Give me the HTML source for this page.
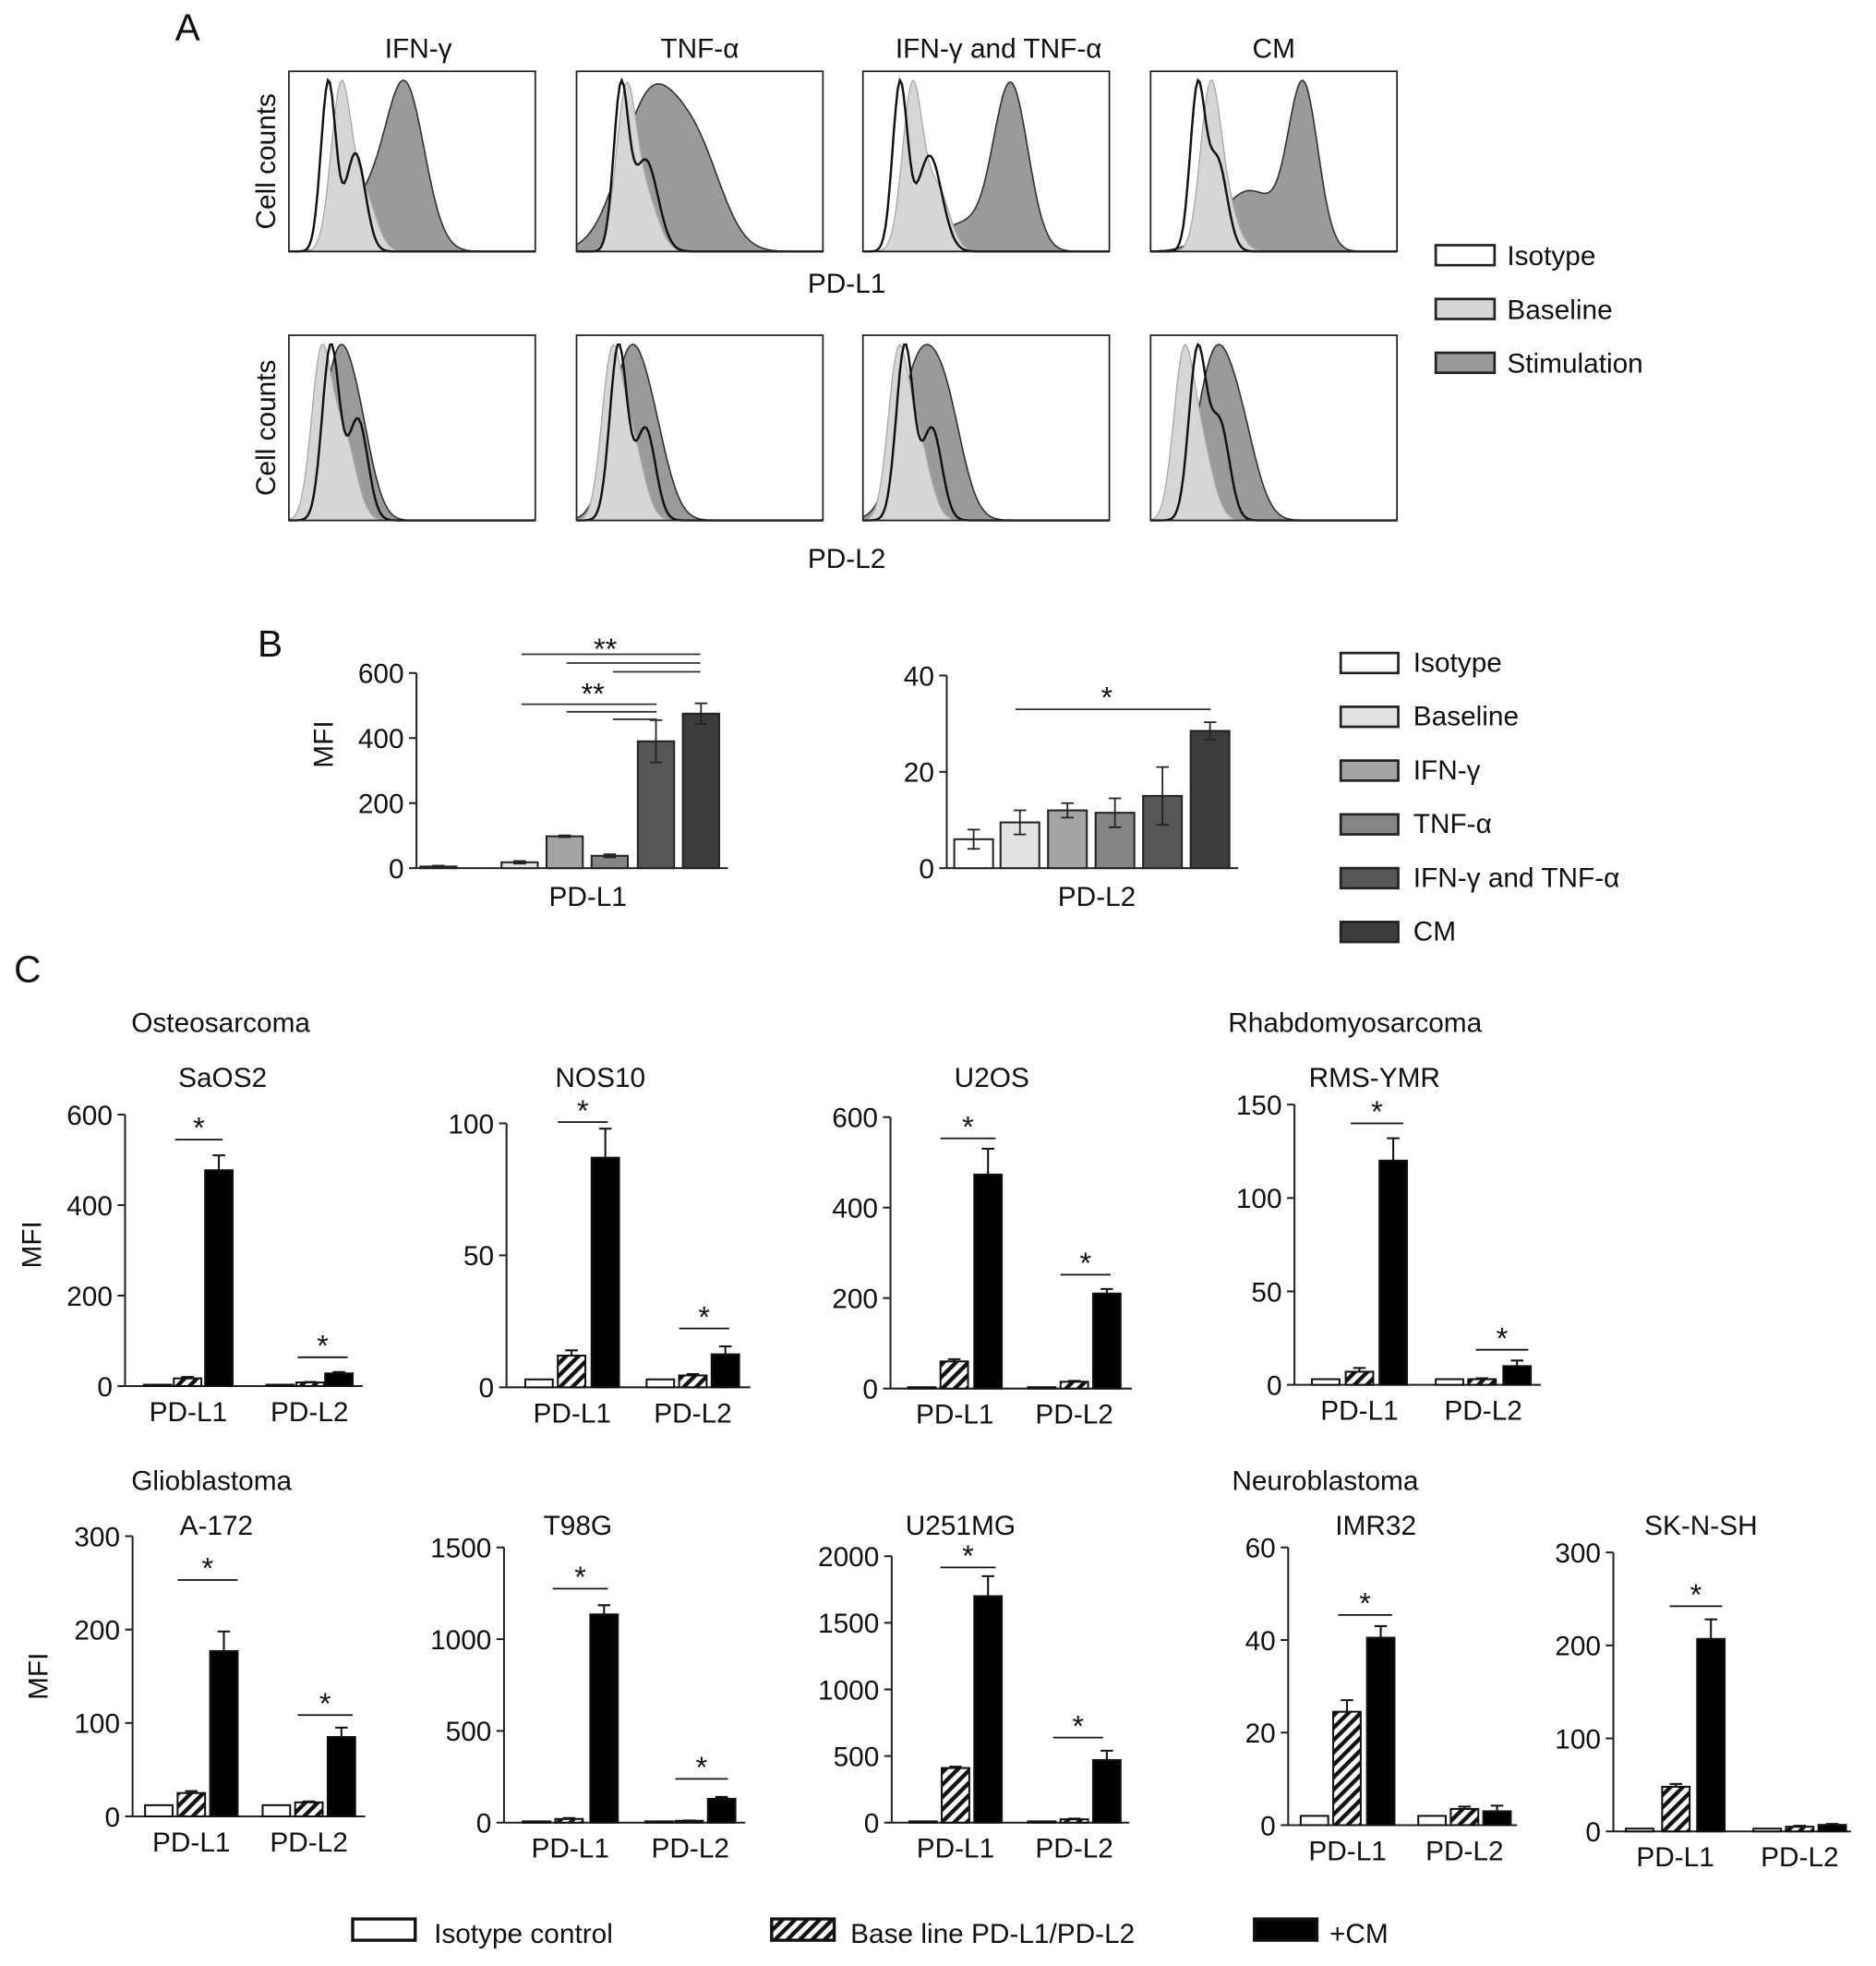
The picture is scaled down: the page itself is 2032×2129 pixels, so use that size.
<!DOCTYPE html>
<html><head><meta charset="utf-8"><style>
html,body{margin:0;padding:0;background:#fff}
svg{display:block}
text{font-family:"Liberation Sans",Arial,sans-serif;fill:#111}
</style></head><body>
<svg id="fig" width="2032" height="2129" viewBox="0 0 1500 1571.6" xmlns="http://www.w3.org/2000/svg">
<defs>
<pattern id="hatch" patternUnits="userSpaceOnUse" width="7" height="7" patternTransform="rotate(45)">
<rect width="7" height="7" fill="#fff"/><rect width="3.2" height="7" fill="#111"/>
</pattern>
</defs>
<g id="root"></g>
</svg>
<script>
// ---------- Panel A histogram data (gaussian components: center frac, height frac, width frac) ----------
const histTitles = ["IFN-γ","TNF-α","IFN-γ and TNF-α","CM"];
const histRow1Iso = [[[0.16,0.95,0.03],[0.27,0.55,0.04]],[[0.18,0.95,0.03],[0.28,0.55,0.05]],[[0.15,0.95,0.03],[0.27,0.55,0.05]],[[0.19,0.95,0.03],[0.27,0.55,0.04]]];
const histRow1Base = [[[0.21,0.92,0.04],[0.3,0.35,0.05]],[[0.2,0.85,0.04],[0.28,0.3,0.05]],[[0.2,0.9,0.04],[0.3,0.35,0.05]],[[0.24,0.9,0.04],[0.3,0.3,0.05]]];
const histRow1Stim = [[[0.47,0.95,0.08],[0.3,0.25,0.08]],[[0.3,0.85,0.12],[0.5,0.45,0.1]],[[0.6,0.92,0.07],[0.4,0.15,0.1]],[[0.62,0.92,0.06],[0.4,0.35,0.12]]];
const histRow2Iso = [[[0.17,0.95,0.035],[0.28,0.55,0.04]],[[0.17,0.95,0.035],[0.28,0.5,0.04]],[[0.17,0.95,0.035],[0.28,0.5,0.04]],[[0.19,0.95,0.035],[0.28,0.55,0.04]]];
const histRow2Base = [[[0.13,0.92,0.04],[0.22,0.5,0.05]],[[0.14,0.9,0.04],[0.22,0.5,0.05]],[[0.14,0.92,0.04],[0.22,0.5,0.05]],[[0.13,0.92,0.04],[0.2,0.5,0.05]]];
const histRow2Stim = [[[0.19,0.9,0.06],[0.28,0.55,0.06]],[[0.2,0.9,0.07],[0.3,0.55,0.07]],[[0.22,0.85,0.08],[0.34,0.55,0.07]],[[0.25,0.9,0.07],[0.36,0.55,0.07]]];

// ---------- Panel B data ----------
const bCats = ["Isotype","Baseline","IFN-γ","TNF-α","IFN-γ and TNF-α","CM"];
const bColors = ["#ffffff","#e2e2e2","#a4a4a4","#858585","#565656","#3c3c3c"];
const bL1Vals = [5,18,98,38,390,475];
const bL1Err = [3,4,3,5,65,32];
const bL2Vals = [6,9.5,12,11.5,15,28.5];
const bL2Err = [2,2.5,1.5,3,6,1.8];
const bL1Ticks = [0,200,400,600];
const bL2Ticks = [0,20,40];

// ---------- Panel C data ----------
const cTitles = ["SaOS2","NOS10","U2OS","RMS-YMR","A-172","T98G","U251MG","IMR32","SK-N-SH"];
const cMax = [600,100,600,150,300,1500,2000,60,300];
const cTicks = [[0,200,400,600],[0,50,100],[0,200,400,600],[0,50,100,150],[0,100,200,300],[0,500,1000,1500],[0,500,1000,1500,2000],[0,20,40,60],[0,100,200,300]];
const cIso = [[3,3],[3,3],[3,3],[3,3],[12,12],[5,3],[3,3],[2,2],[3,3]];
const cBase = [[17,8],[12,4.5],[60,15],[7,3],[25,15],[20,10],[410,25],[24.5,3.5],[48,5]];
const cBaseErr = [[3,1],[2,0.5],[5,2],[2,0.5],[2,1],[5,2],[10,5],[2.5,0.5],[3,1]];
const cCM = [[477,28],[87,12.5],[473,210],[120,10],[177,85],[1135,130],[1700,470],[40.5,3],[207,7]];
const cCMErr = [[33,3],[11,3],[57,10],[12,3],[21,10],[50,10],[150,70],[2.5,1.2],[21,1]];
const cSig = [[true,true],[true,true],[true,true],[true,true],[true,true],[true,true],[true,true],[true,false],[true,false]];

// ---------- layout ----------
const root = document.getElementById('root');
const NS = "http://www.w3.org/2000/svg";
function el(tag, attrs, parent){const e=document.createElementNS(NS,tag);for(const k in attrs)e.setAttribute(k,attrs[k]);(parent||root).appendChild(e);return e;}
function txt(x,y,s,size,anchor,parent){const t=el('text',{x:x,y:y,'font-size':size,'text-anchor':anchor||'middle'},parent);t.textContent=s;return t;}

let t;
t=txt(150,32,"A",30);
t=txt(216,525,"B",30);
t=txt(22,785,"C",30);

// ---- Panel A ----
const boxX=[231,461,690,920], boxW=197;
function curve(comps,bx,by,bw,bh){
  const vals=[];const N=120;let mx=0;
  for(let i=0;i<=N;i++){const f=i/N;let v=0;comps.forEach(c=>{v+=c[1]*Math.exp(-0.5*Math.pow((f-c[0])/c[2],2));});vals.push(v);mx=Math.max(mx,v);}
  const s=mx>0.95?0.95/mx:1;
  return vals.map((v,i)=>[bx+i/N*bw, by+bh-v*s*bh]);
}
function drawHist(row, by, bh, iso, base, stim){
  for(let i=0;i<4;i++){
    const g=el('g',{});
    
    
    const bx=boxX[i];
    const ps=curve(stim[i],bx,by,boxW,bh);
    el('path',{d:'M'+bx+','+(by+bh)+' L'+ps.map(p=>p[0].toFixed(1)+','+p[1].toFixed(1)).join(' L')+' Z',fill:'#9a9a9a',stroke:'#333','stroke-width':1.2},g);
    const pb=curve(base[i],bx,by,boxW,bh);
    el('path',{d:'M'+bx+','+(by+bh)+' L'+pb.map(p=>p[0].toFixed(1)+','+p[1].toFixed(1)).join(' L')+' Z',fill:'#d6d6d6',stroke:'#aaa','stroke-width':1},g);
    const pi=curve(iso[i],bx,by,boxW,bh);
    el('path',{d:'M'+pi.map(p=>p[0].toFixed(1)+','+p[1].toFixed(1)).join(' L'),fill:'none',stroke:'#111','stroke-width':1.8},g);
    el('rect',{x:bx,y:by,width:boxW,height:bh,fill:'none',stroke:'#222','stroke-width':1.3},g);
    if(row===1){t=txt(bx+boxW/2+(i===0?5:(i===2?10:0)),46,histTitles[i],22);}
  }
  t=txt(220,by+bh/2,"Cell counts",22);t.setAttribute('transform','rotate(-90 220 '+(by+bh/2)+')');
  
}
drawHist(1,57,144,histRow1Iso,histRow1Base,histRow1Stim);
drawHist(2,268,148,histRow2Iso,histRow2Base,histRow2Stim);
t=txt(677,234,"PD-L1",22);
t=txt(677,454,"PD-L2",22);
const aLeg=[["Isotype","#fff"],["Baseline","#d6d6d6"],["Stimulation","#9a9a9a"]];
aLeg.forEach((d,i)=>{const g=el('g',{});
  el('rect',{x:1148,y:196+i*43,width:47,height:16,fill:d[1],stroke:'#222','stroke-width':2},g);txt(1205,212+i*43,d[0],22,'start',g);});

// ---- Panel B ----
function barChartB(axX,yTop,yBot,max,ticks,vals,errs,xs,bw,xEnd,label,labelX,name){
  const g=el('g',{});
  const y=v=>yBot-(v/max)*(yBot-yTop);
  el('line',{x1:axX,y1:yTop,x2:axX,y2:yBot,stroke:'#222','stroke-width':1.5},g);
  el('line',{x1:axX,y1:yBot,x2:xEnd,y2:yBot,stroke:'#222','stroke-width':1.5},g);
  ticks.forEach(tv=>{el('line',{x1:axX-6,y1:y(tv),x2:axX,y2:y(tv),stroke:'#222','stroke-width':1.5},g);txt(axX-10,y(tv)+8,String(tv),22,'end',g);});
  vals.forEach((v,i)=>{const r=el('rect',{x:xs[i],y:y(v),width:bw,height:yBot-y(v),fill:bColors[i],stroke:'#222','stroke-width':1.5},g);
    
    const cx=xs[i]+bw/2;el('path',{d:`M${cx},${y(v+errs[i])} V${y(v-errs[i])} M${cx-5},${y(v+errs[i])} H${cx+5} M${cx-5},${y(v-errs[i])} H${cx+5}`,stroke:'#222','stroke-width':1.3,fill:'none'},g);});
  txt(labelX,724,label,22,'middle',g);
  return g;
}
const g1=barChartB(333,538,694,600,bL1Ticks,bL1Vals,bL1Err,[336,401,437,473,510,546],29,582,"PD-L1",470,'chart-b-pd-l1');
t=txt(266,595,"MFI",22);t.setAttribute('transform','rotate(-90 266 595)');
[[523,417],[530,453],[537,490]].forEach(a=>el('line',{x1:a[1],y1:a[0],x2:560,y2:a[0],stroke:'#333','stroke-width':1.3},g1));
[[563,417],[569,453],[575,490]].forEach(a=>el('line',{x1:a[1],y1:a[0],x2:525,y2:a[0],stroke:'#333','stroke-width':1.3},g1));
txt(484,527,"**",24,'middle',g1);txt(474,563,"**",24,'middle',g1);
const g2=barChartB(757,540,694,40,bL2Ticks,bL2Vals,bL2Err,[763,800,838,876,914,952],31,990,"PD-L2",877,'chart-b-pd-l2');
el('line',{x1:812,y1:567,x2:968,y2:567,stroke:'#333','stroke-width':1.3},g2);txt(885,566,"*",24,'middle',g2);
bCats.forEach((c,i)=>{const g=el('g',{});
  el('rect',{x:1072,y:522+i*43,width:46,height:16,fill:bColors[i],stroke:'#222','stroke-width':2},g);txt(1130,537+i*43,c,22,'start',g);});

// ---- Panel C ----
const cLayout=[
 {ax:100,top:891,bot:1108,end:290,x:[115,139,164,213,237,260],sig:[[911,140,178],[1085,238,278]],tx:178},
 {ax:405,top:898,bot:1109,end:600,x:[420,446,473,517,543,569],sig:[[897,446,486],[1062,543,583]],tx:480},
 {ax:712,top:893,bot:1110,end:905,x:[726,752,779,822,848,874],sig:[[910,752,796],[1019,848,888]],tx:793},
 {ax:1035,top:883,bot:1107,end:1232,x:[1049,1076,1103,1148,1174,1202],sig:[[898,1080,1122],[1079,1180,1222]],tx:1099},
 {ax:106,top:1228,bot:1452,end:292,x:[116,142,168,210,236,262],sig:[[1263,142,190],[1371,238,282]],tx:173},
 {ax:403,top:1237,bot:1457,end:596,x:[418,444,472,516,540,566],sig:[[1270,442,486],[1422,540,582]],tx:462},
 {ax:713,top:1244,bot:1457,end:903,x:[727,753,779,822,848,874],sig:[[1253,752,796],[1389,842,882]],tx:768},
 {ax:1030,top:1237,bot:1459,end:1213,x:[1040,1066,1093,1134,1160,1186],sig:[[1291,1070,1113],[0,0,0]],tx:1100},
 {ax:1290,top:1241,bot:1464,end:1480,x:[1300,1329,1357,1402,1428,1454],sig:[[1284,1335,1377],[0,0,0]],tx:1360}
];
cTitles.forEach((name,k)=>{
  const L=cLayout[k];const g=el('g',{});
  
  const max=cMax[k];const y=v=>L.bot-(v/max)*(L.bot-L.top);const bw=22;
  el('line',{x1:L.ax,y1:L.top,x2:L.ax,y2:L.bot,stroke:'#222','stroke-width':1.5},g);
  el('line',{x1:L.ax,y1:L.bot,x2:L.end,y2:L.bot,stroke:'#222','stroke-width':1.5},g);
  cTicks[k].forEach(tv=>{el('line',{x1:L.ax-6,y1:y(tv),x2:L.ax,y2:y(tv),stroke:'#222','stroke-width':1.5},g);txt(L.ax-10,y(tv)+8,String(tv),22,'end',g);});
  for(let gi=0;gi<2;gi++){
    const series=[[cIso[k][gi],0,'#fff'],[cBase[k][gi],cBaseErr[k][gi],'url(#hatch)'],[cCM[k][gi],cCMErr[k][gi],'#000']];
    series.forEach((s,si)=>{const x=L.x[gi*3+si];const h=Math.max(L.bot-y(s[0]),1);
      const r=el('rect',{x:x,y:L.bot-h,width:bw,height:h,fill:s[2],stroke:'#111','stroke-width':1.5},g);
      
      if(s[1]>0){const cx=x+bw/2;el('path',{d:`M${cx},${y(s[0])} V${y(s[0]+s[1])} M${cx-5},${y(s[0]+s[1])} H${cx+5}`,stroke:'#111','stroke-width':1.5,fill:'none'},g);}
    });
    txt((L.x[gi*3]+L.x[gi*3+2]+bw)/2,L.bot+28,gi?"PD-L2":"PD-L1",22,'middle',g);
    if(cSig[k][gi]){const s=L.sig[gi];el('line',{x1:s[1],y1:s[0],x2:s[2],y2:s[0],stroke:'#111','stroke-width':1.3},g);txt((s[1]+s[2])/2,s[0]-1,"*",24,'middle',g);}
  }
  txt(L.tx,k<4?869:1227,name,22,'middle',g);
});
[["Osteosarcoma",105,825],["Rhabdomyosarcoma",982,825],["Glioblastoma",105,1191],["Neuroblastoma",985,1191]].forEach(d=>{
  t=txt(d[1],d[2],d[0],22,'start');});
t=txt(33,995,"MFI",22);t.setAttribute('transform','rotate(-90 33 995)');
t=txt(38,1340,"MFI",22);t.setAttribute('transform','rotate(-90 38 1340)');
[["Isotype control","#fff",282,347],["Base line PD-L1/PD-L2","url(#hatch)",617,680],["+CM","#000",1003,1063]].forEach(d=>{
  const g=el('g',{});
  el('rect',{x:d[2],y:1534,width:50,height:17,fill:d[1],stroke:'#111','stroke-width':2.5},g);txt(d[3],1553,d[0],22,'start',g);});
</script>
</body></html>
